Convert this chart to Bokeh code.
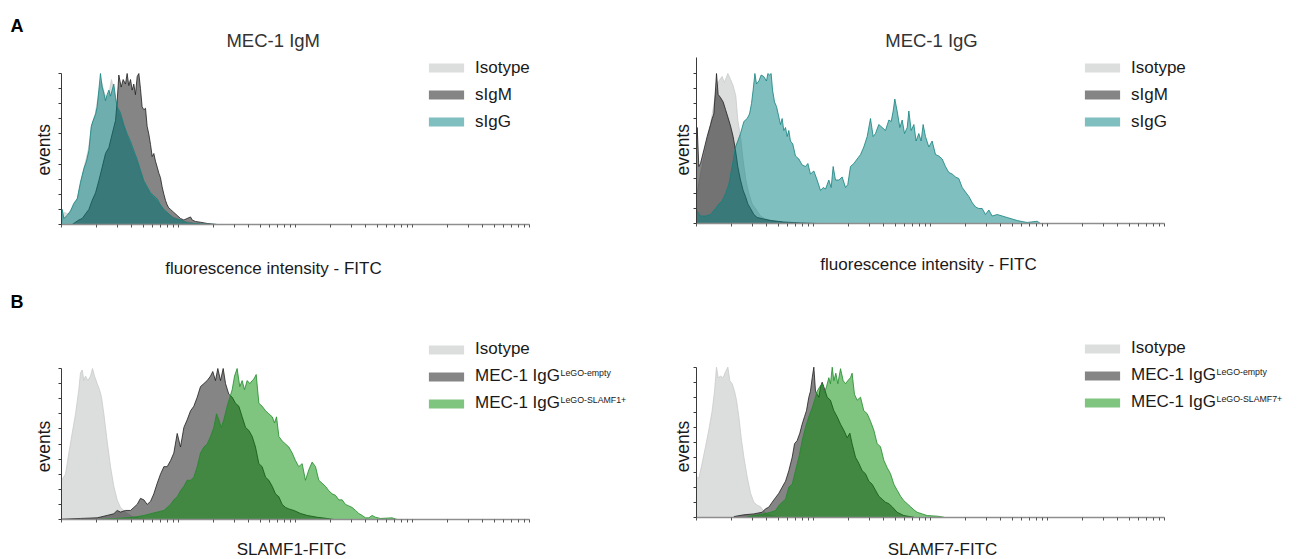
import math
from bokeh.plotting import figure
from bokeh.models import Range1d, FixedTicker, Legend, LegendItem, Label
from bokeh.layouts import column, row
from bokeh.embed import file_html
from bokeh.resources import INLINE

FONT = "Liberation Sans"

# ---------------- data (x: log10 fluorescence in decades, y: % of max events) -------------
# Panel A, left: MEC-1 IgM
a1_iso_x = [0, 0.02, 0.06, 0.10, 0.14, 0.17, 0.20, 0.23, 0.26, 0.29, 0.32, 0.34, 0.37, 0.40, 0.427, 0.45, 0.48, 0.52, 0.56, 0.60, 0.65, 0.70, 0.76, 0.82, 0.88, 0.95, 1.05, 1.2]
a1_iso_y = [0, 8, 7, 12, 18, 30, 40, 50, 66, 74, 88, 95, 86, 84, 96, 88, 76, 68, 58, 50, 40, 28, 20, 15, 9, 5, 2, 0]
a1_igm_x = [0.091, 0.148, 0.177, 0.205, 0.234, 0.262, 0.291, 0.319, 0.348, 0.376, 0.405, 0.433, 0.462, 0.476, 0.490, 0.510, 0.527, 0.547, 0.561, 0.575, 0.590, 0.604, 0.618, 0.632, 0.647, 0.661, 0.675, 0.689, 0.704, 0.718, 0.732, 0.746, 0.761, 0.775, 0.789, 0.803, 0.818, 0.832, 0.846, 0.860, 0.875, 0.889, 0.903, 0.917, 0.932, 0.946, 0.960, 0.989, 1.017, 1.046, 1.074, 1.103, 1.117, 1.145, 1.188, 1.245, 1.330]
a1_igm_y = [0, 3, 4, 7, 10, 16, 21, 29, 38, 47, 51, 60, 69, 82, 99, 91, 96, 93, 100, 92, 96, 89, 93, 86, 98, 100, 90, 78, 76, 77, 65, 60, 53, 45, 47, 42, 38, 34, 31, 25, 20, 16, 13, 11, 10, 9, 8, 6, 4, 3, 4, 5, 3, 2, 1.5, 0.7, 0]
a1_igg_x = [0.00, 0.006, 0.02, 0.048, 0.077, 0.105, 0.134, 0.162, 0.191, 0.214, 0.234, 0.254, 0.271, 0.291, 0.305, 0.319, 0.333, 0.348, 0.362, 0.376, 0.390, 0.405, 0.419, 0.433, 0.447, 0.462, 0.476, 0.504, 0.533, 0.561, 0.590, 0.618, 0.647, 0.675, 0.704, 0.732, 0.761, 0.789, 0.818, 0.846, 0.875, 0.903, 0.932, 0.960, 1.017, 1.074, 1.188, 1.33]
a1_igg_y = [0, 10, 4, 6, 9, 14, 17, 28, 37, 42, 49, 65, 69, 73, 78, 89, 100, 91, 87, 82, 86, 89, 85, 89, 93, 84, 78, 74, 66, 60, 55, 49, 43, 36, 29, 25, 21, 19, 17, 13, 10, 8, 6, 4, 3, 1, 0.4, 0]

# Panel A, right: MEC-1 IgG
a2_iso_x = [0, 0.034, 0.077, 0.120, 0.162, 0.191, 0.219, 0.239, 0.268, 0.291, 0.313, 0.336, 0.353, 0.376, 0.399, 0.422, 0.447, 0.476, 0.513, 0.547, 0.590, 0.647, 0.746, 0.889, 0.974]
a2_iso_y = [18, 33, 49, 66, 86, 95, 98, 94, 100, 96, 92, 85, 69, 58, 42, 29, 20, 13, 9, 5, 3, 2, 0.7, 0.2, 0]
a2_igm_x = [0, 0.006, 0.020, 0.034, 0.063, 0.091, 0.120, 0.134, 0.148, 0.162, 0.171, 0.185, 0.205, 0.228, 0.248, 0.268, 0.291, 0.313, 0.333, 0.353, 0.376, 0.399, 0.419, 0.439, 0.462, 0.490, 0.519, 0.575, 0.632, 0.746, 0.889, 1.031]
a2_igm_y = [50, 64, 38, 40, 49, 58, 66, 70, 73, 89, 100, 86, 84, 81, 76, 71, 65, 58, 49, 38, 29, 22, 18, 13, 10, 6, 4, 3, 2, 1, 0.4, 0]
a2_igg_x = [0, 0.034, 0.077, 0.120, 0.162, 0.191, 0.219, 0.248, 0.276, 0.305,
            0.333, 0.353, 0.376, 0.405, 0.433, 0.453, 0.470, 0.484, 0.499, 0.513,
            0.533, 0.553, 0.575, 0.598, 0.610, 0.624, 0.638, 0.650, 0.667, 0.684,
            0.704, 0.718, 0.732, 0.746, 0.761, 0.775, 0.789, 0.803, 0.823, 0.846,
            0.875, 0.903, 0.932, 0.952, 0.974, 1.003, 1.031, 1.060, 1.083, 1.103,
            1.131, 1.151, 1.168, 1.188, 1.217, 1.245, 1.274, 1.293, 1.316, 1.345,
            1.373, 1.402, 1.430, 1.459, 1.487, 1.510, 1.530, 1.558, 1.587, 1.615,
            1.644, 1.664, 1.681, 1.695, 1.715, 1.738, 1.758, 1.778, 1.801, 1.815,
            1.835, 1.858, 1.877, 1.900, 1.920, 1.937, 1.957, 1.986, 2.014, 2.043,
            2.071, 2.100, 2.128, 2.157, 2.185, 2.214, 2.242, 2.271, 2.299, 2.328,
            2.356, 2.385, 2.413, 2.442, 2.470, 2.499, 2.527, 2.570, 2.613, 2.655,
            2.698, 2.741, 2.783, 2.826, 2.912, 2.940]
a2_igg_y = [9, 5, 5, 6, 10, 13, 15, 20, 26, 38,
            51, 55, 60, 68, 70, 73, 80, 89, 100, 93,
            95, 99, 98, 95, 100, 99, 100, 89, 81, 78,
            71, 66, 70, 62, 64, 58, 62, 55, 53, 45,
            43, 39, 38, 40, 33, 35, 29, 22, 24, 23,
            29, 24, 38, 29, 29, 31, 24, 26, 38, 40,
            43, 46, 51, 58, 70, 58, 60, 66, 64, 62,
            69, 68, 75, 83, 75, 64, 69, 60, 64, 75,
            62, 66, 55, 60, 55, 66, 58, 51, 55, 46,
            45, 43, 38, 34, 33, 31, 30, 24, 21, 18,
            14, 11, 10, 10, 6, 9, 5, 6, 5, 4,
            3, 2, 1.3, 0.7, 1.5, 0]

# Panel B, left: SLAMF1
b1_iso_x = [0, 0.034, 0.063, 0.091, 0.120, 0.148, 0.162, 0.177, 0.191, 0.205, 0.225, 0.248, 0.265, 0.282, 0.305, 0.325, 0.342, 0.362, 0.390, 0.419, 0.447, 0.476, 0.504, 0.533, 0.561, 0.604, 0.675, 0.761]
b1_iso_y = [26, 30, 44, 57, 70, 86, 97, 99, 92, 95, 92, 95, 100, 95, 90, 86, 81, 70, 52, 35, 22, 13, 8, 6, 4, 2, 0.7, 0]
b1_emp_x = [0, 0.162, 0.305, 0.390, 0.447, 0.476, 0.504, 0.547, 0.590, 0.618,
            0.647, 0.675, 0.704, 0.732, 0.761, 0.789, 0.818, 0.846, 0.875, 0.903,
            0.932, 0.960, 0.989, 1.017, 1.046, 1.074, 1.103, 1.131, 1.160, 1.188,
            1.217, 1.245, 1.274, 1.293, 1.316, 1.336, 1.359, 1.382, 1.402, 1.430,
            1.459, 1.487, 1.516, 1.544, 1.573, 1.601, 1.630, 1.658, 1.687, 1.715,
            1.744, 1.772, 1.801, 1.829, 1.858, 1.886, 1.915, 1.943, 1.986, 2.043,
            2.100, 2.185, 2.271, 2.328]
b1_emp_y = [0.2, 0.7, 1.1, 2.7, 3.8, 6, 4.9, 6, 6, 8,
            10, 14, 13, 10, 12, 17, 24, 30, 35, 35,
            39, 44, 57, 48, 61, 66, 72, 75, 81, 88,
            90, 92, 95, 98, 92, 100, 92, 100, 90, 83,
            81, 77, 75, 68, 61, 59, 55, 48, 37, 35,
            28, 26, 22, 17, 15, 10, 8, 7, 6, 4,
            2.7, 1.5, 0.7, 0]
b1_pos_x = [0.333, 0.476, 0.618, 0.704, 0.761, 0.818, 0.875, 0.932, 0.960, 0.989,
            1.017, 1.046, 1.074, 1.103, 1.131, 1.160, 1.188, 1.217, 1.245, 1.274,
            1.302, 1.325, 1.345, 1.365, 1.387, 1.416, 1.439, 1.459, 1.479, 1.501,
            1.524, 1.544, 1.564, 1.587, 1.610, 1.630, 1.644, 1.664, 1.687, 1.715,
            1.744, 1.772, 1.801, 1.821, 1.838, 1.858, 1.886, 1.915, 1.943, 1.972,
            2.000, 2.028, 2.057, 2.085, 2.114, 2.142, 2.171, 2.199, 2.228, 2.256,
            2.285, 2.313, 2.342, 2.370, 2.399, 2.427, 2.456, 2.484, 2.513, 2.541,
            2.570, 2.598, 2.627, 2.655, 2.684, 2.726, 2.826, 2.869]
b1_pos_y = [0.2, 0.7, 1.5, 2.7, 3.8, 4.9, 6, 10, 13, 15,
            19, 22, 26, 26, 28, 35, 44, 48, 50, 55,
            61, 70, 66, 61, 66, 75, 81, 86, 95, 100,
            88, 92, 86, 92, 90, 92, 93, 96, 77, 75,
            72, 70, 68, 64, 68, 55, 52, 50, 48, 44,
            39, 35, 37, 26, 33, 38, 35, 26, 24, 22,
            19, 17, 16, 13, 13, 10, 9, 8, 6, 4,
            2.7, 1.1, 1.1, 2.7, 1.5, 0.7, 1.1, 0]

# Panel B, right: SLAMF7
b2_iso_x = [0, 0.020, 0.048, 0.077, 0.105, 0.134, 0.154, 0.171, 0.185, 0.205, 0.228, 0.248, 0.268, 0.285, 0.305, 0.325, 0.342, 0.362, 0.382, 0.405, 0.433, 0.462, 0.490, 0.519, 0.547, 0.575, 0.604, 0.647, 0.718]
b2_iso_y = [27, 26, 36, 47, 58, 71, 84, 100, 93, 94, 93, 97, 100, 91, 89, 84, 78, 67, 53, 40, 27, 16, 10, 8, 7, 4, 2, 0.9, 0]
b2_emp_x = [0.319, 0.405, 0.490, 0.561, 0.590, 0.618, 0.647, 0.675, 0.704, 0.732,
            0.761, 0.789, 0.818, 0.838, 0.860, 0.883, 0.903, 0.923, 0.940, 0.960,
            0.974, 0.989, 1.003, 1.017, 1.031, 1.046, 1.060, 1.074, 1.088, 1.117,
            1.145, 1.174, 1.202, 1.231, 1.259, 1.288, 1.311, 1.330, 1.359, 1.387,
            1.416, 1.444, 1.473, 1.501, 1.530, 1.558, 1.587, 1.615, 1.644, 1.672,
            1.715, 1.772, 1.858]
b2_emp_y = [0.4, 1.6, 2.2, 3.3, 5.6, 6.7, 10, 13, 16, 20,
            24, 31, 40, 49, 51, 56, 62, 67, 71, 80,
            84, 93, 100, 84, 82, 80, 87, 90, 87, 80,
            78, 71, 67, 62, 58, 53, 56, 49, 40, 36,
            31, 29, 24, 22, 18, 14, 12, 10, 9, 7,
            3.3, 1.1, 0]
b2_pos_x = [0.433, 0.547, 0.632, 0.675, 0.704, 0.732, 0.761, 0.789, 0.818, 0.846,
            0.875, 0.903, 0.932, 0.960, 0.989, 1.009, 1.031, 1.054, 1.074, 1.094,
            1.111, 1.131, 1.145, 1.160, 1.174, 1.191, 1.208, 1.231, 1.254, 1.274,
            1.293, 1.316, 1.330, 1.350, 1.373, 1.402, 1.430, 1.459, 1.487, 1.516,
            1.544, 1.573, 1.601, 1.630, 1.658, 1.687, 1.715, 1.744, 1.772, 1.801,
            1.829, 1.858, 1.886, 1.929, 1.972, 2.057, 2.114]
b2_pos_y = [0.4, 1.8, 3.3, 4.4, 7.8, 10, 12, 20, 22, 31,
            40, 51, 60, 67, 73, 78, 84, 87, 89, 83,
            87, 93, 89, 100, 91, 96, 89, 99, 91, 89,
            91, 93, 96, 82, 78, 80, 71, 69, 64, 58,
            49, 47, 38, 33, 29, 22, 18, 14, 11, 9,
            7, 4.9, 3.3, 2.2, 1.1, 0.7, 0]

labels_a = ["Isotype", "sIgM", "sIgG"]
labels_b = ["Isotype", "MEC-1 IgG", "MEC-1 IgG"]
sup_b1 = ["LeGO-empty", "LeGO-SLAMF1+"]
sup_b2 = ["LeGO-empty", "LeGO-SLAMF7+"]
titles = ["MEC-1 IgM", "MEC-1 IgG"]
xlabels = ["fluorescence intensity - FITC", "fluorescence intensity - FITC", "SLAMF1-FITC", "SLAMF7-FITC"]
ylabel = "events"
decade_ticks = [1, 10, 100, 1000, 10000]
minor_ticks = [k * 10 ** d for d in range(4) for k in range(2, 10)]
y_ticks = list(range(0, 101, 10))

# ---------------- styles ----------------
ISO = dict(fill="#dcdddd", alpha=1.0, line="#c9caca")
GRAY = dict(fill="#000000", alpha=0.48, line="#1e1e1e")
TEAL = dict(fill="#008080", alpha=0.5, line="#13827e")
GREEN = dict(fill="#008a00", alpha=0.5, line="#1f8a2a")
TXT = "#1a1a1a"

# panel geometry in window pixels: figure box, pixel of decade 0, px per decade,
# pixel of y=0, px per y-unit
GEOM = {
    "A1": dict(left=0, top=0, w=640, h=280, x0=61, ppd=117, y0=224, ppu=1.51),
    "A2": dict(left=640, top=0, w=670, h=280, x0=696, ppd=117, y0=223, ppu=1.5),
    "B1": dict(left=0, top=280, w=640, h=279, x0=61, ppd=117, y0=519, ppu=1.51),
    "B2": dict(left=640, top=280, w=670, h=279, x0=696, ppd=117, y0=516.7, ppu=1.5),
}


def scr(g, ox, oy):
    """window pixel -> screen units of the figure (from its bottom-left)"""
    return ox - g["left"], g["top"] + g["h"] - oy


def panel(g, series, ytop, legend_left, legend_bottom):
    xs0 = (g["left"] - g["x0"]) / g["ppd"]
    xs1 = (g["left"] + g["w"] - g["x0"]) / g["ppd"]
    ys0 = -(g["top"] + g["h"] - g["y0"]) / g["ppu"]
    ys1 = (g["y0"] - g["top"]) / g["ppu"]
    p = figure(x_axis_type="log", x_range=Range1d(10 ** xs0, 10 ** xs1),
               y_range=Range1d(ys0, ys1),
               frame_width=g["w"], frame_height=g["h"],
               min_border=0, min_border_left=0, min_border_right=0,
               min_border_top=0, min_border_bottom=0,
               toolbar_location=None, output_backend="svg", title=None)
    p.outline_line_color = None
    p.xgrid.visible = False
    p.ygrid.visible = False
    p.background_fill_color = "white"
    p.border_fill_color = "white"

    xa = p.xaxis[0]
    xa.fixed_location = 0
    xa.bounds = (decade_ticks[0], decade_ticks[-1])
    xa.ticker = FixedTicker(ticks=decade_ticks, minor_ticks=minor_ticks)
    xa.major_label_overrides = {t: " " for t in decade_ticks}
    xa.major_label_text_font_size = "8px"
    xa.major_label_standoff = 0
    xa.axis_line_color = "#8e8e8e"
    xa.axis_line_width = 1.6
    xa.major_tick_line_color = "#555555"
    xa.minor_tick_line_color = "#555555"
    xa.major_tick_out = 3
    xa.major_tick_in = 0
    xa.minor_tick_out = 3
    xa.minor_tick_in = 0

    ya = p.yaxis[0]
    ya.fixed_location = 1
    ya.bounds = (0, ytop)
    ya.ticker = FixedTicker(ticks=y_ticks)
    ya.major_label_overrides = {t: " " for t in y_ticks}
    ya.major_label_text_font_size = "8px"
    ya.major_label_standoff = 0
    ya.axis_line_color = "#3a3a3a"
    ya.axis_line_width = 1
    ya.major_tick_line_color = "#3a3a3a"
    ya.minor_tick_line_color = None
    ya.major_tick_out = 3
    ya.major_tick_in = 0

    items = []
    for (xs, ys, st, lab) in series:
        xv = [10 ** v for v in xs]
        r = p.varea(x=xv, y1=[0] * len(ys), y2=ys, fill_color=st["fill"], fill_alpha=st["alpha"])
        p.line(xv, ys, line_color=st["line"], line_width=0.8)
        items.append(LegendItem(label=lab, renderers=[r]))

    lx, ly = scr(g, legend_left, legend_bottom)
    leg = Legend(items=items, location=(lx, ly), orientation="vertical",
                 glyph_width=44, glyph_height=11, label_height=27, spacing=0,
                 padding=0, margin=0, label_standoff=7,
                 border_line_color=None, background_fill_alpha=0,
                 label_text_font=FONT, label_text_font_size="17px",
                 label_text_color=TXT)
    p.add_layout(leg)
    return p


def text(p, g, ox, oy, s, size, color=TXT, angle=0.0, align="center",
         baseline="alphabetic", style="normal"):
    sx, sy = scr(g, ox, oy)
    p.add_layout(Label(x=sx, y=sy, x_units="screen", y_units="screen", text=s,
                       text_font=FONT, text_font_size=size, text_color=color,
                       text_align=align, text_baseline=baseline, angle=angle,
                       text_font_style=style))


gA1, gA2, gB1, gB2 = GEOM["A1"], GEOM["A2"], GEOM["B1"], GEOM["B2"]
pA1 = panel(gA1, [(a1_iso_x, a1_iso_y, ISO, labels_a[0]),
                  (a1_igm_x, a1_igm_y, GRAY, labels_a[1]),
                  (a1_igg_x, a1_igg_y, TEAL, labels_a[2])], 100, 424, 135.2)
pA2 = panel(gA2, [(a2_iso_x, a2_iso_y, ISO, labels_a[0]),
                  (a2_igm_x, a2_igm_y, GRAY, labels_a[1]),
                  (a2_igg_x, a2_igg_y, TEAL, labels_a[2])], 111, 1080, 135.2)
pB1 = panel(gB1, [(b1_iso_x, b1_iso_y, ISO, labels_b[0]),
                  (b1_emp_x, b1_emp_y, GRAY, labels_b[1]),
                  (b1_pos_x, b1_pos_y, GREEN, labels_b[2])], 100, 424, 416.7)
pB2 = panel(gB2, [(b2_iso_x, b2_iso_y, ISO, labels_b[0]),
                  (b2_emp_x, b2_emp_y, GRAY, labels_b[1]),
                  (b2_pos_x, b2_pos_y, GREEN, labels_b[2])], 100, 1080, 415.5)

# panel letters
text(pA1, gA1, 10, 25, "A", "18px", color="#000000", align="left", style="bold")
text(pB1, gB1, 10, 301, "B", "18px", color="#000000", align="left", style="bold")
# titles
text(pA1, gA1, 272.7, 40, titles[0], "18.5px", color="#333333")
text(pA2, gA2, 931, 40, titles[1], "18.5px", color="#333333")
# x labels
text(pA1, gA1, 273, 267.5, xlabels[0], "17px")
text(pA2, gA2, 928, 263.5, xlabels[1], "17px")
text(pB1, gB1, 291, 549, xlabels[2], "17px")
text(pB2, gB2, 942, 549, xlabels[3], "17px")
# y labels (rotated, reading upwards)
half_pi = math.pi / 2
text(pA1, gA1, 43.5, 175, ylabel, "17.5px", angle=half_pi, align="left")
text(pA2, gA2, 682, 175, ylabel, "17.5px", angle=half_pi, align="left")
text(pB1, gB1, 43.5, 471.7, ylabel, "17.5px", angle=half_pi, align="left")
text(pB2, gB2, 682, 471.7, ylabel, "17.5px", angle=half_pi, align="left")
# superscripts of legend labels
text(pB1, gB1, 560, 372, sup_b1[0], "8.8px", align="left")
text(pB1, gB1, 560, 399, sup_b1[1], "8.8px", align="left")
text(pB2, gB2, 1216, 371, sup_b2[0], "8.8px", align="left")
text(pB2, gB2, 1216, 398, sup_b2[1], "8.8px", align="left")

layout = column(row(pA1, pA2, spacing=0), row(pB1, pB2, spacing=0), spacing=0)

open("out.html", "w").write(file_html(layout, INLINE))
